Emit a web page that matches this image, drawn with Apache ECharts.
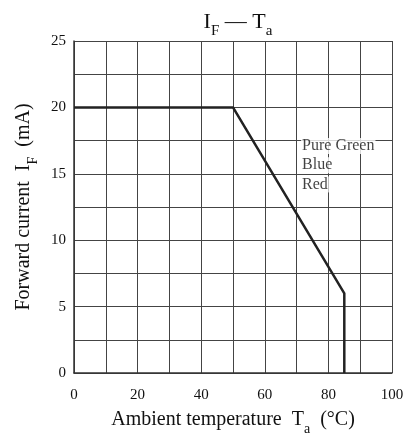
<!DOCTYPE html>
<html><head><meta charset="utf-8">
<script src="https://cdn.jsdelivr.net/npm/echarts@6/dist/echarts.min.js"></script>
<style>html,body{margin:0;padding:0;background:#fff}#c{width:414px;height:436px}</style>
</head><body><div id="c"></div>
<script>
var curveX = [0, 50, 85, 85];
var curveY = [20, 20, 6, 0];
var labelNames = ['Pure Green', 'Blue', 'Red'];
var labelX = [71.4, 71.4, 71.4];
var labelY = [17.1, 15.65, 14.2];
var xTicks = [0, 20, 40, 60, 80, 100];
var yTicks = [0, 5, 10, 15, 20, 25];

var F = '"Liberation Serif", "DejaVu Serif", serif';
var chart = echarts.init(document.getElementById('c'), null, {renderer: 'canvas'});
function sub(sz){ return {fontFamily: F, fontSize: sz, color: '#111', verticalAlign: 'bottom', padding: [0,0,-6,0]}; }
chart.setOption({
  animation: false,
  title: {
    text: '{m|I}{s|F}{m| — T}{s|a}',
    left: 233, top: 6, textAlign: 'center',
    textStyle: {fontWeight: 'normal', rich: {m: {fontFamily: F, fontSize: 22, color: '#111', fontWeight: 'normal'}, s: sub(15)}}
  },
  grid: {left: 74, right: 22, top: 41, bottom: 63, containLabel: false, outerBoundsMode: 'none'},
  xAxis: {
    type: 'value', min: 0, max: 100, interval: 10,
    name: '{m|Ambient temperature  T}{s|a}{m|  (°C)}',
    nameLocation: 'middle', nameGap: 37,
    nameTextStyle: {rich: {m: {fontFamily: F, fontSize: 20, color: '#111'}, s: sub(14)}},
    axisLine: {show: true, lineStyle: {color: '#333', width: 1.5}},
    axisTick: {show: false},
    axisLabel: {fontFamily: F, fontSize: 15, color: '#111', margin: 15,
      formatter: function(v){ return xTicks.indexOf(v) >= 0 ? String(v) : ''; }},
    splitLine: {show: true, lineStyle: {color: '#444', width: 1}}
  },
  yAxis: {
    type: 'value', min: 0, max: 25, interval: 2.5,
    name: '{m|Forward current  I}{s|F}{m|  (mA)}',
    nameLocation: 'middle', nameGap: 34, nameRotate: 90,
    nameTextStyle: {rich: {m: {fontFamily: F, fontSize: 20, color: '#111'}, s: sub(14)}},
    axisLine: {show: true, lineStyle: {color: '#333', width: 1.5}},
    axisTick: {show: false},
    axisLabel: {fontFamily: F, fontSize: 15, color: '#111', margin: 8,
      formatter: function(v){ return yTicks.indexOf(v) >= 0 ? String(v) : ''; }},
    splitLine: {show: true, lineStyle: {color: '#444', width: 1}}
  },
  series: [{
    type: 'line',
    data: curveX.map(function(x, i){ return [x, curveY[i]]; }),
    symbol: 'none',
    lineStyle: {color: '#222', width: 2.5},
    z: 3
  }, {
    type: 'scatter',
    symbolSize: 0,
    data: labelX.map(function(x, i){ return {value: [x, labelY[i]], name: labelNames[i]}; }),
    label: {show: true, position: 'right', distance: 0, formatter: '{b}',
      fontFamily: F, fontSize: 16, color: '#111', backgroundColor: '#fff', padding: [0, 1]},
    emphasis: {disabled: true},
    z: 4
  }]
});
</script></body></html>
